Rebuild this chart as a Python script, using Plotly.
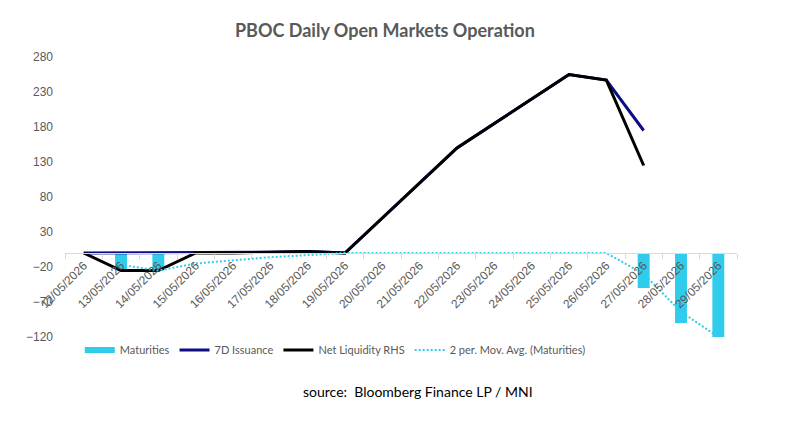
import plotly.graph_objects as go

categories = ["12/05/2026", "13/05/2026", "14/05/2026", "15/05/2026", "16/05/2026",
              "17/05/2026", "18/05/2026", "19/05/2026", "20/05/2026", "21/05/2026",
              "22/05/2026", "23/05/2026", "24/05/2026", "25/05/2026", "26/05/2026",
              "27/05/2026", "28/05/2026", "29/05/2026"]
maturities = [None, -25, -25, None, None, None, None, None, None, None,
              None, None, None, None, None, -50, -100, -120]
issuance_7d = [0, 0, 0, 0, 0, 1, 2, 0, 50, 100, 150, 185, 220, 255, 247, 175, None, None]
net_liquidity = [0, -25, -25, 0, 0, 1, 2, 0, 50, 100, 150, 185, 220, 255, 247, 125, None, None]
mov_avg = [None, -17, -25, -15, -10, -6, -3, 0, 0, 0, 0, 0, 0, 0, 0, -30, -84, -120]
y_ticks = [-120, -70, -20, 30, 80, 130, 180, 230, 280]

CYAN = "#2FCDEB"
NAVY = "#0D0D85"
GRAY = "#595959"
TICKFONT = dict(family="Liberation Sans, Arial, sans-serif", size=12, color=GRAY)

fig = go.Figure()
fig.add_trace(go.Bar(x=categories, y=maturities, name="Maturities", marker_color=CYAN,
                     marker_line_width=0, showlegend=False))
fig.add_trace(go.Scatter(x=categories, y=[None] * len(categories), name="Maturities",
                         mode="lines", line=dict(color=CYAN, width=6)))
fig.add_trace(go.Scatter(x=categories, y=issuance_7d, name="7D Issuance", mode="lines",
                         line=dict(color=NAVY, width=3)))
fig.add_trace(go.Scatter(x=categories, y=net_liquidity, name="Net Liquidity RHS", mode="lines",
                         line=dict(color="black", width=3)))
fig.add_trace(go.Scatter(x=categories, y=mov_avg, name="2 per. Mov. Avg. (Maturities)",
                         mode="lines", line=dict(color=CYAN, width=2, dash="2px,2px")))

fig.update_layout(
    width=785, height=428,
    margin=dict(l=65, r=48, t=57, b=91),
    paper_bgcolor="white", plot_bgcolor="white",
    bargap=0.68,
    title=dict(text="<b>PBOC Daily Open Markets Operation</b>", xref="paper", x=0.476,
               xanchor="center", yref="container", y=1 - 31 / 428, yanchor="middle",
               font=dict(family="Lato, sans-serif", size=18, color=GRAY)),
    xaxis=dict(type="category", anchor="free", position=0.3, showline=True,
               linecolor="#D9D9D9", linewidth=1, ticks="outside", tickson="boundaries",
               ticklen=5, tickcolor="#D9D9D9", tickangle=-45, showgrid=False,
               zeroline=False, tickfont=TICKFONT),
    yaxis=dict(range=[-120, 280], tickvals=y_ticks, showgrid=False, zeroline=False,
               showline=False, tickfont=TICKFONT, ticklabelstandoff=11),
    legend=dict(orientation="h", x=0.022, xanchor="left", y=-0.046, yanchor="middle",
                font=dict(family="Lato, sans-serif", size=11, color=GRAY),
                traceorder="normal"),
    annotations=[dict(text="source:  Bloomberg Finance LP / MNI", xref="paper", yref="paper",
                      x=0.525, y=-0.196, xanchor="center", yanchor="middle", showarrow=False,
                      font=dict(family="Lato, sans-serif", size=14, color="black"))],
)

fig.write_html("out.html")
